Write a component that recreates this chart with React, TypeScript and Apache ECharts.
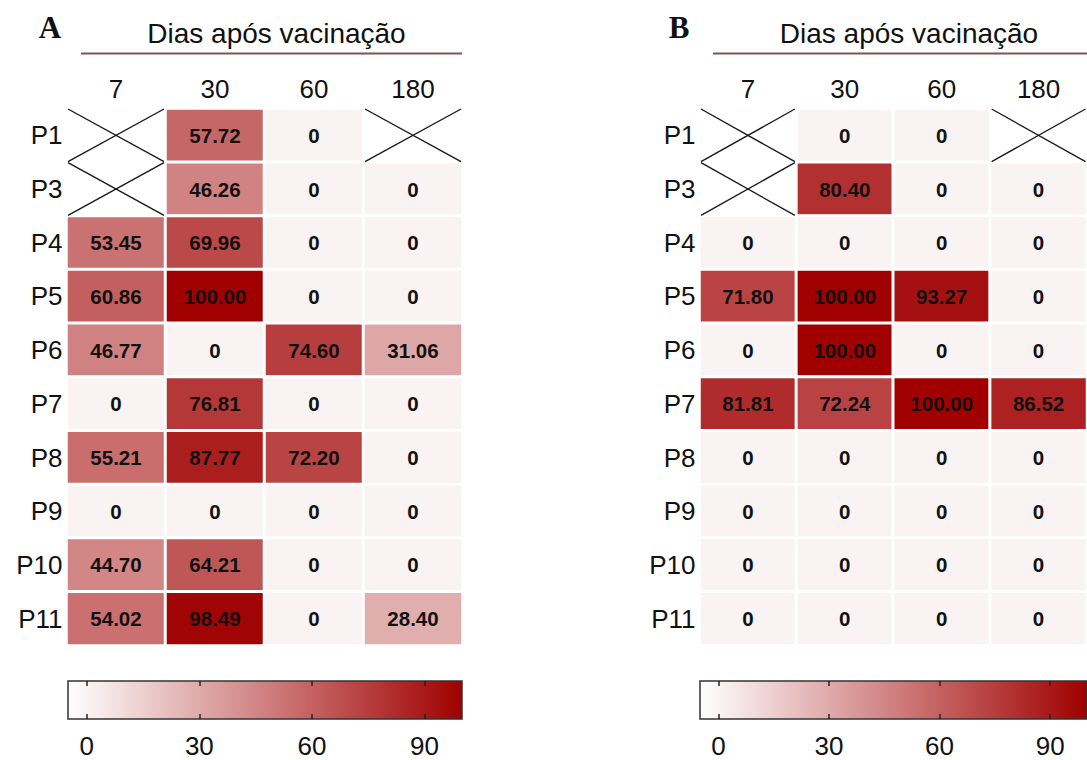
import React, { useEffect, useRef } from "react";
import * as echarts from "echarts";

const rows = ["P1", "P3", "P4", "P5", "P6", "P7", "P8", "P9", "P10", "P11"];
const cols = ["7", "30", "60", "180"];

// Panel A values per column (null = not collected)
const a7 = [null, null, 53.45, 60.86, 46.77, 0, 55.21, 0, 44.7, 54.02];
const a30 = [57.72, 46.26, 69.96, 100.0, 0, 76.81, 87.77, 0, 64.21, 98.49];
const a60 = [0, 0, 0, 0, 74.6, 0, 72.2, 0, 0, 0];
const a180 = [null, 0, 0, 0, 31.06, 0, 0, 0, 0, 28.4];

// Panel B values per column
const b7 = [null, null, 0, 71.8, 0, 81.81, 0, 0, 0, 0];
const b30 = [0, 80.4, 0, 100.0, 100.0, 72.24, 0, 0, 0, 0];
const b60 = [0, 0, 0, 93.27, 0, 100.0, 0, 0, 0, 0];
const b180 = [null, 0, 0, 0, 0, 86.52, 0, 0, 0, 0];

const scaleTicks = [0, 30, 60, 90];
const scaleMin = -5;
const scaleMax = 100;

const titleText = "Dias após vacinação";
const panelLetters = ["A", "B"];

const LOW = "#ffffff";
const HIGH = "#a00000";
const FONT = "'Liberation Sans', Arial, sans-serif";

function buildCells(columns: (number | null)[][]) {
  const out: number[][] = [];
  columns.forEach((col, ci) =>
    col.forEach((v, ri) => {
      if (v !== null) out.push([ci, ri, v]);
    })
  );
  return out;
}
function buildMissing(columns: (number | null)[][]) {
  const out: number[][] = [];
  columns.forEach((col, ci) =>
    col.forEach((v, ri) => {
      if (v === null) out.push([ci, ri]);
    })
  );
  return out;
}

export default function App() {
  const ref = useRef<HTMLDivElement>(null);
  useEffect(() => {
    document.body.style.margin = "0";
    if (!ref.current) return;
    const chart = echarts.init(ref.current, null, { renderer: "svg" });

    const panelsLeft = [66.5, 699.5];
    const gridW = 396;
    const cbLeft = [68, 700];
    const cbW = 394;

    const grids: any[] = [];
    const xAxes: any[] = [];
    const yAxes: any[] = [];
    panelsLeft.forEach((l) => {
      grids.push({ left: l, width: gridW, top: 108.5, height: 537 });
    });
    cbLeft.forEach((l) => {
      grids.push({ left: l, width: cbW, top: 681, height: 38 });
    });
    // heat axes
    [0, 1].forEach((g) => {
      xAxes.push({
        type: "category",
        data: cols,
        gridIndex: g,
        position: "top",
        axisLine: { show: false },
        axisTick: { show: false },
        splitLine: { show: false },
        axisLabel: { fontSize: 26, color: "#111", fontFamily: FONT, margin: 7 },
      });
      yAxes.push({
        type: "category",
        data: rows,
        gridIndex: g,
        inverse: true,
        axisLine: { show: false },
        axisTick: { show: false },
        splitLine: { show: false },
        axisLabel: { fontSize: 26, color: "#111", fontFamily: FONT, margin: 4 },
      });
    });
    // colorbar axes
    [2, 3].forEach((g) => {
      xAxes.push({
        type: "value",
        gridIndex: g,
        min: scaleMin,
        max: scaleMax,
        position: "bottom",
        z: 5,
        axisLine: { show: false },
        splitLine: { show: false },
        axisTick: {
          show: true,
          inside: true,
          length: 5,
          customValues: scaleTicks,
          lineStyle: { color: "#222", width: 1.5 },
        },
        axisLabel: {
          customValues: scaleTicks,
          fontSize: 26,
          color: "#111",
          fontFamily: FONT,
          margin: 14,
        },
      });
      xAxes.push({
        type: "value",
        gridIndex: g,
        min: scaleMin,
        max: scaleMax,
        position: "top",
        z: 5,
        axisLine: { show: false },
        splitLine: { show: false },
        axisTick: {
          show: true,
          inside: true,
          length: 5,
          customValues: scaleTicks,
          lineStyle: { color: "#222", width: 1.5 },
        },
        axisLabel: { show: false },
      });
      yAxes.push({ type: "value", gridIndex: g, min: 0, max: 1, show: false });
    });

    const heatSeries = (idx: number, data: number[][]) => ({
      type: "heatmap",
      xAxisIndex: idx,
      yAxisIndex: idx,
      data,
      itemStyle: { borderColor: "#ffffff", borderWidth: 3 },
      emphasis: { disabled: true },
      label: {
        show: true,
        color: "#111",
        fontSize: 20.5,
        fontWeight: "bold",
        fontFamily: FONT,
        formatter: (p: any) => {
          const v = p.value[2];
          return v === 0 ? "0" : v.toFixed(2);
        },
      },
    });

    const crossSeries = (idx: number, data: number[][]) => ({
      type: "custom",
      xAxisIndex: idx,
      yAxisIndex: idx,
      data,
      silent: true,
      renderItem: (params: any, api: any) => {
        const c = api.coord([api.value(0), api.value(1)]);
        const s = api.size([1, 1]);
        const x0 = c[0] - s[0] / 2 + 1.5;
        const x1 = c[0] + s[0] / 2 - 1.5;
        const y0 = c[1] - s[1] / 2 + 0.5;
        const y1 = c[1] + s[1] / 2 - 0.5;
        const st = { stroke: "#1a1a1a", lineWidth: 1.4 };
        return {
          type: "group",
          children: [
            { type: "line", shape: { x1: x0, y1: y0, x2: x1, y2: y1 }, style: st },
            { type: "line", shape: { x1: x0, y1: y1, x2: x1, y2: y0 }, style: st },
          ],
        };
      },
    });

    const barSeries = (xi: number, yi: number) => ({
      type: "custom",
      xAxisIndex: xi,
      yAxisIndex: yi,
      data: [[scaleMin, scaleMax]],
      silent: true,
      z: 1,
      renderItem: (params: any, api: any) => {
        const p0 = api.coord([api.value(0), 1]);
        const p1 = api.coord([api.value(1), 0]);
        return {
          type: "rect",
          shape: { x: p0[0], y: p0[1], width: p1[0] - p0[0], height: p1[1] - p0[1] },
          style: {
            fill: new echarts.graphic.LinearGradient(0, 0, 1, 0, [
              { offset: 0, color: LOW },
              { offset: 1, color: HIGH },
            ]),
            stroke: "#333",
            lineWidth: 1.5,
          },
        };
      },
    });

    const titleCenters = [271.5, 904];
    const letterX = [45, 674];
    const titles: any[] = [];
    titleCenters.forEach((cx) =>
      titles.push({
        text: titleText,
        left: cx,
        top: 14,
        textAlign: "center",
        textStyle: { fontSize: 28, fontWeight: "normal", color: "#111", fontFamily: FONT },
      })
    );
    panelLetters.forEach((t, i) =>
      titles.push({
        text: t,
        left: letterX[i],
        top: 7,
        textAlign: "center",
        textStyle: {
          fontSize: 31,
          fontWeight: "bold",
          color: "#111",
          fontFamily: "'Liberation Serif', 'Times New Roman', serif",
        },
      })
    );

    const lineStyle = { stroke: "#7a5555", lineWidth: 2 };
    const graphic = [
      { type: "line", shape: { x1: 81, y1: 53.5, x2: 462, y2: 53.5 }, style: lineStyle },
      { type: "line", shape: { x1: 713, y1: 53.5, x2: 1095, y2: 53.5 }, style: lineStyle },
    ];

    chart.setOption({
      animation: false,
      backgroundColor: "#ffffff",
      title: titles,
      graphic,
      grid: grids,
      xAxis: xAxes,
      yAxis: yAxes,
      visualMap: [
        {
          type: "continuous",
          show: false,
          min: scaleMin,
          max: scaleMax,
          dimension: 2,
          seriesIndex: [0, 1],
          inRange: { color: [LOW, HIGH] },
        },
      ],
      series: [
        heatSeries(0, buildCells([a7, a30, a60, a180])),
        heatSeries(1, buildCells([b7, b30, b60, b180])),
        crossSeries(0, buildMissing([a7, a30, a60, a180])),
        crossSeries(1, buildMissing([b7, b30, b60, b180])),
        barSeries(2, 2),
        barSeries(4, 3),
      ],
    });
    return () => chart.dispose();
  }, []);
  return <div ref={ref} style={{ width: 1087, height: 760 }} />;
}
